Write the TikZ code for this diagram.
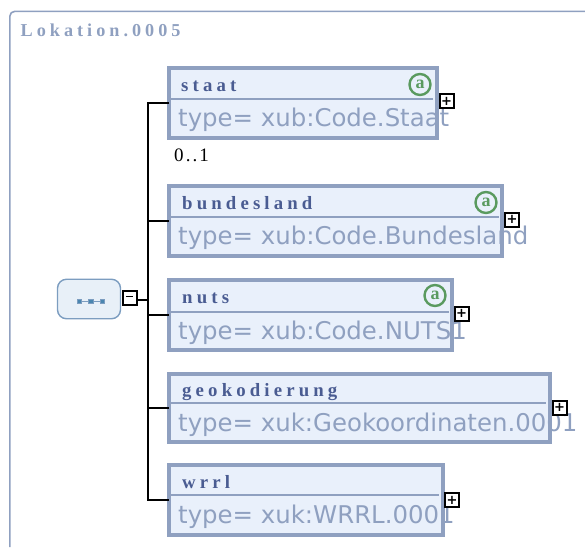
\documentclass[tikz,border=0pt]{standalone}
\usepackage{fontspec}
\setmainfont{Liberation Serif}
\setsansfont{DejaVu Sans}
\newfontfamily\titlefont[LetterSpace=22]{Liberation Serif}
\newfontfamily\cardfont[LetterSpace=11]{Liberation Serif}
\definecolor{frameblue}{HTML}{8FA0C0}
\definecolor{boxfill}{HTML}{E9F0FB}
\definecolor{namecol}{HTML}{4A5C92}
\definecolor{attrgreen}{HTML}{5A9A5F}
\definecolor{seqfill}{HTML}{E8F0F8}
\definecolor{seqline}{HTML}{7C9DC0}
\definecolor{seqdot}{HTML}{4A86B0}
\tikzset{elem/.style={draw=frameblue, fill=boxfill, line width=4pt, inner sep=0, outer sep=0}}
\tikzset{elemname/.style={anchor=base west, inner sep=0, text=namecol, font=\titlefont\bfseries\fontsize{18.8}{20}\selectfont}}
\tikzset{elemtype/.style={anchor=base west, inner sep=0, text=frameblue, font=\sffamily\fontsize{24.4}{26}\selectfont}}
\tikzset{attr/.style={draw=attrgreen, line width=2.4pt, circle, minimum size=21pt, inner sep=0, text=attrgreen, font=\bfseries\fontsize{18}{18}\selectfont}}
\tikzset{toggle/.style={draw=black, fill=white, line width=2pt, minimum size=14pt, inner sep=0, font=\sffamily\bfseries\fontsize{13}{13}\selectfont}}
\tikzset{seqdot/.style={fill=seqdot, draw=seqline, minimum size=4.5pt, inner sep=0, line width=.4pt}}
\tikzset{sepline/.style={draw=frameblue, line width=1.6pt}}
\tikzset{wireline/.style={draw=black, line width=1.6pt}}

\begin{document}
\begin{tikzpicture}[x=1pt, y=-1pt]
    \useasboundingbox (0, 0) rectangle (585, 547);

    % outer frame, open on the right and at the bottom
    \coordinate (frameL) at (9.8, 547);
    \coordinate (frameR) at (585, 11.3);
    \draw[frameblue, line width=1.6pt, rounded corners=5pt] (frameL) |- (frameR);
    \node[anchor=base west, inner sep=0, text=frameblue, font=\titlefont\bfseries\fontsize{18.2}{20}\selectfont] at (20.5, 36.7) (title) {Lokation.0005};

    % elements
    \node[elem, minimum width=268pt, minimum height=70.5pt] at (303, 103) (staat) {};
    \node[elem, minimum width=333pt, minimum height=70.5pt] at (335.5, 221) (bundesland) {};
    \node[elem, minimum width=283pt, minimum height=70.5pt] at (310.5, 315) (nuts) {};
    \node[elem, minimum width=381pt, minimum height=68.5pt] at (359.5, 408) (geokodierung) {};
    \node[elem, minimum width=274pt, minimum height=70pt] at (306, 500) (wrrl) {};

    % trunk
    \coordinate (jointop) at (148, 103);
    \coordinate (joinbot) at (148, 500);
    \draw[wireline] (staat.west) -- (jointop) -- (joinbot) -- (wrrl.west);
    \draw[wireline] (bundesland.west) -- (bundesland.west -| jointop);
    \draw[wireline] (nuts.west) -- (nuts.west -| jointop);
    \draw[wireline] (geokodierung.west) -- (geokodierung.west -| jointop);

    \draw[sepline] (169, 99) -- (433, 99);
    \draw[sepline] (169, 217) -- (499, 217);
    \draw[sepline] (169, 312) -- (449, 312);
    \draw[sepline] (169, 403) -- (546, 403);
    \draw[sepline] (169, 495) -- (439, 495);

    \node[elemname] at (181, 91) (staatname) {staat};
    \node[elemname] at (182, 209) (bundeslandname) {bundesland};
    \node[elemname] at (182, 303) (nutsname) {nuts};
    \node[elemname] at (182, 396) (geoname) {geokodierung};
    \node[elemname] at (182, 488) (wrrlname) {wrrl};

    \node[elemtype] at (178, 126) (staattype) {type= xub:Code.Staat};
    \node[elemtype] at (178, 244) (bundeslandtype) {type= xub:Code.Bundesland};
    \node[elemtype] at (178, 339) (nutstype) {type= xub:Code.NUTS1};
    \node[elemtype] at (178, 431) (geotype) {type= xuk:Geokoordinaten.0001};
    \node[elemtype] at (178, 523) (wrrltype) {type= xuk:WRRL.0001};

    \node[attr] at (420, 84.5) (staatattr) {a};
    \node[attr] at (486, 202.5) (bundeslandattr) {a};
    \node[attr] at (435, 295.5) (nutsattr) {a};

    \node[toggle] at (446.5, 101) (staatplus) {+};
    \node[toggle] at (512, 219.5) (bundeslandplus) {+};
    \node[toggle] at (461.5, 313.5) (nutsplus) {+};
    \node[toggle] at (559.5, 407.5) (geoplus) {+};
    \node[toggle] at (452, 500) (wrrlplus) {+};

    \node[anchor=base west, inner sep=0, font=\cardfont\fontsize{19}{20}\selectfont] at (174, 161) (card) {0..1};

    % sequence compositor
    \node[draw=seqline, fill=seqfill, line width=1.4pt, rounded corners=9pt, minimum width=63pt, minimum height=39.5pt, inner sep=0] at (89, 299) (seq) {};
    \node[toggle] at (129.5, 298) (minus) {\rule[3.2pt]{7.5pt}{1.7pt}};
    \coordinate[yshift=-2pt] (stub) at (minus.east);
    \draw[wireline] (stub) -- (stub -| jointop);
    \node[seqdot] at (79, 301) (d1) {};
    \node[seqdot] at (90.5, 301) (d2) {};
    \node[seqdot] at (102, 301) (d3) {};
    \draw[line width=.8pt, draw=seqline] (d1) -- (d2);
    \draw[line width=.8pt, draw=seqline] (d2) -- (d3);
\end{tikzpicture}
\end{document}
